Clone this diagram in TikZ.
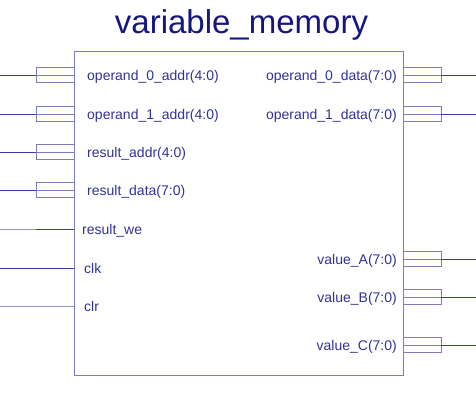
\documentclass[tikz,border=0pt]{standalone}
\usepackage{fontspec}
\setmainfont{Liberation Sans}
\definecolor{titlec}{RGB}{22,22,130}
\definecolor{textc}{RGB}{50,50,150}
\definecolor{wirec}{RGB}{60,60,160}
\definecolor{faintc}{RGB}{150,150,195}
\definecolor{boxc}{RGB}{125,125,190}
\begin{document}
\begin{tikzpicture}[x=1pt,y=-1pt,
  body/.style={draw=boxc, line width=0.8pt, minimum width=329pt, minimum height=324pt, inner sep=0pt, anchor=north west},
  busbox/.style={draw=boxc, line width=0.7pt, minimum width=38pt, minimum height=15pt, inner sep=0pt},
  wire/.style={draw=wirec, line width=0.8pt},
  faintwire/.style={draw=faintc, line width=0.8pt},
  innerwire/.style={draw=boxc, line width=0.6pt},
  lbl/.style={text=textc, font=\fontsize{14}{16}\selectfont, inner sep=0pt},
  ttl/.style={text=titlec, font=\fontsize{33}{38}\selectfont, inner sep=0pt}]
\useasboundingbox (0,0) rectangle (476,400);

\node[ttl, anchor=base] (title) at (241.5,33) {variable\_memory};
\node[body] (blk) at (74,51) {};

% left bus pins
\foreach \n/\y/\t in {a/75/operand\_0\_addr(4:0), b/114/operand\_1\_addr(4:0), c/152/result\_addr(4:0), d/190/result\_data(7:0)} {
  \node[busbox] (lb\n) at (55,\y) {};
  \coordinate (le\n) at (0,\y);
  \draw[wire] (le\n) -- (lb\n.west);
  \draw[innerwire] (lb\n.west) -- (lb\n.east);
  \node[lbl, anchor=base west] (ll\n) at (87,\y+5) {\t};
}

% right bus pins
\foreach \n/\y/\t in {a/75/operand\_0\_data(7:0), b/114/operand\_1\_data(7:0), c/259/value\_A(7:0), d/297/value\_B(7:0), e/345/value\_C(7:0)} {
  \node[busbox] (rb\n) at (422,\y) {};
  \coordinate (re\n) at (476,\y);
  \draw[wire] (rb\n.east) -- (re\n);
  \draw[innerwire] (rb\n.west) -- (rb\n.east);
  \node[lbl, anchor=base east] (rl\n) at (397,\y+5) {\t};
}

% single-bit pins
\coordinate (we0) at (0,229);
\coordinate (we1) at (36,229);
\coordinate (we2) at (74,229);
\draw[faintwire] (we0) -- (we1);
\draw[wire] (we1) -- (we2);
\node[lbl, anchor=base west] (lwe) at (82,234) {result\_we};

\coordinate (clk0) at (0,268);
\coordinate (clk1) at (74,268);
\draw[wire] (clk0) -- (clk1);
\node[lbl, anchor=base west] (lclk) at (84,273) {clk};

\coordinate (clr0) at (0,306);
\coordinate (clr1) at (74,306);
\draw[faintwire] (clr0) -- (clr1);
\node[lbl, anchor=base west] (lclr) at (84,311) {clr};
\end{tikzpicture}
\end{document}
